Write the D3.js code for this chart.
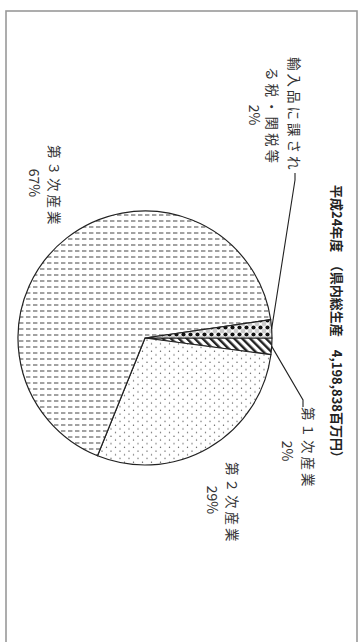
<!DOCTYPE html>
<html>
<head>
<meta charset="utf-8">
<script src="https://cdn.jsdelivr.net/npm/d3@7"></script>
<style>
  html, body { margin: 0; padding: 0; background: #fff; }
</style>
</head>
<body>
<div id="root"></div>
<script>
// data (shares in %)
const categories = ["第１次産業", "第２次産業", "第３次産業", "輸入品に課される税・関税等"];
const shares = [2.1, 29.0, 66.6, 2.3];
const pctLabels = ["2%", "29%", "67%", "2%"];
const labelLines = [["第１次産業"], ["第２次産業"], ["第３次産業"], ["輸入品に課され", "る税・関税等"]];
const title = "平成24年度　（県内総生産　4,198,838百万円）";

const width = 358;
const height = 642;

const svg = d3.select("#root")
  .append("svg")
  .attr("width", width)
  .attr("height", height)
  .attr("viewBox", `0 0 ${width} ${height}`);

// the whole chart sits turned a quarter turn clockwise on the page
const chart = svg.append("g")
  .attr("transform", `translate(${width}, 0) rotate(90)`);

// fill patterns, drawn upright on screen (patternTransform undoes the turn)
const defs = svg.append("defs");

const pDash = defs.append("pattern")
  .attr("id", "p-dash").attr("patternUnits", "userSpaceOnUse")
  .attr("width", 7).attr("height", 6)
  .attr("patternTransform", "rotate(-90)");
pDash.append("rect").attr("width", 7).attr("height", 6).attr("fill", "#fff");
pDash.append("rect").attr("x", 0).attr("y", 2.4).attr("width", 4.4).attr("height", 1.2).attr("fill", "#666");

const pDot = defs.append("pattern")
  .attr("id", "p-dot").attr("patternUnits", "userSpaceOnUse")
  .attr("width", 9).attr("height", 7.4)
  .attr("patternTransform", "rotate(-90)");
pDot.append("rect").attr("width", 9).attr("height", 7.4).attr("fill", "#fff");
pDot.append("circle").attr("cx", 2).attr("cy", 2).attr("r", 0.7).attr("fill", "#555");
pDot.append("circle").attr("cx", 6.5).attr("cy", 5.7).attr("r", 0.7).attr("fill", "#555");

const pHatch = defs.append("pattern")
  .attr("id", "p-hatch").attr("patternUnits", "userSpaceOnUse")
  .attr("width", 5.6).attr("height", 5.6)
  .attr("patternTransform", "rotate(-135)");
pHatch.append("rect").attr("width", 5.6).attr("height", 5.6).attr("fill", "#fff");
pHatch.append("rect").attr("x", 0).attr("y", 0).attr("width", 2.4).attr("height", 5.6).attr("fill", "#222");

const pDiamond = defs.append("pattern")
  .attr("id", "p-diamond").attr("patternUnits", "userSpaceOnUse")
  .attr("width", 7).attr("height", 7)
  .attr("patternTransform", "rotate(-90)");
pDiamond.append("rect").attr("width", 7).attr("height", 7).attr("fill", "#fff");
[[0, 0], [7, 0], [0, 7], [7, 7]].forEach(([x, y]) =>
  pDiamond.append("circle").attr("cx", x).attr("cy", y).attr("r", 2.4).attr("fill", "#ccc"));
pDiamond.append("circle").attr("cx", 3.5).attr("cy", 3.5).attr("r", 2.1).attr("fill", "#111");

const fills = ["url(#p-hatch)", "url(#p-dot)", "url(#p-dash)", "url(#p-diamond)"];

// frame
chart.append("rect")
  .attr("x", 11)
  .attr("y", 1)
  .attr("width", 660)
  .attr("height", 351)
  .attr("fill", "none")
  .attr("stroke", "#999")
  .attr("stroke-width", 1.6);

// title
chart.append("text")
  .attr("x", 185)
  .attr("y", 21)
  .attr("dominant-baseline", "central")
  .attr("font-family", "'Noto Sans CJK JP', sans-serif")
  .attr("font-size", 13)
  .attr("font-weight", "bold")
  .attr("fill", "#222")
  .text(title);

// pie
const cx = 338;
const cy = 213;
const radius = 127;

const pie = d3.pie().sort(null).value((d) => d);
const arcs = pie(shares);
const arc = d3.arc().innerRadius(0).outerRadius(radius);

const pieG = chart.append("g").attr("transform", `translate(${cx}, ${cy})`);

pieG.selectAll("path")
  .data(arcs)
  .join("path")
  .attr("d", arc)
  .attr("fill", (d, i) => fills[i])
  .attr("stroke", "#222")
  .attr("stroke-width", 1.2)
  .attr("stroke-linejoin", "round");

// labels (local, turned frame: x runs down the page, y runs right-to-left)
const labelPos = [
  { x: 407, y: 49, pctX: 451, pctY: 70, leader: [[400, 55], [407, 55]] },
  { x: 462, y: 125, pctX: 500, pctY: 145 },
  { x: 145, y: 303, pctX: 183, pctY: 323 },
  { x: 57, y: 63, pctX: 115, pctY: 103, lineGap: 22, leader: [[180, 63], [173, 63]] },
];

const textFont = "'Noto Sans CJK JP', sans-serif";

labelPos.forEach((p, i) => {
  const lines = labelLines[i];
  lines.forEach((line, j) => {
    chart.append("text")
      .attr("x", p.x + j * 10)
      .attr("y", p.y + j * (p.lineGap || 0))
      .attr("dominant-baseline", "central")
      .attr("font-family", textFont)
      .attr("font-size", 13.5)
      .attr("letter-spacing", 3)
      .attr("fill", "#333")
      .text(line);
  });
  chart.append("text")
    .attr("x", p.pctX)
    .attr("y", p.pctY)
    .attr("text-anchor", "middle")
    .attr("dominant-baseline", "central")
    .attr("font-family", textFont)
    .attr("font-size", 14)
    .attr("fill", "#333")
    .text(pctLabels[i]);

  if (p.leader) {
    const a = (arcs[i].startAngle + arcs[i].endAngle) / 2;
    const edge = [cx + radius * Math.sin(a), cy - radius * Math.cos(a)];
    chart.append("polyline")
      .attr("points", [edge, ...p.leader].map((pt) => pt.join(",")).join(" "))
      .attr("fill", "none")
      .attr("stroke", "#222")
      .attr("stroke-width", 1.1);
  }
});
</script>
</body>
</html>
